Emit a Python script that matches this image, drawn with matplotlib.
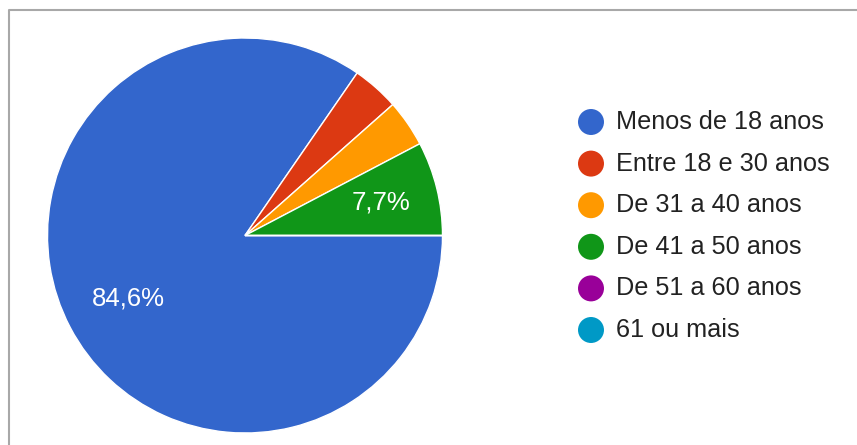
import matplotlib
matplotlib.use('Agg')
import matplotlib.pyplot as plt

# answers to the age question
labels = ['Menos de 18 anos', 'Entre 18 e 30 anos', 'De 31 a 40 anos',
          'De 41 a 50 anos', 'De 51 a 60 anos', '61 ou mais']
counts = [22, 1, 1, 2, 0, 0]
colors = ['#3366cc', '#dc3912', '#ff9900', '#109618', '#990099', '#0099c6']

W, H = 857, 445
plt.rcParams['font.family'] = ['Liberation Sans', 'DejaVu Sans']
fig = plt.figure(figsize=(W / 100, H / 100), dpi=100)

# full-figure axes in pixel units for the frame and the legend
bg = fig.add_axes([0, 0, 1, 1])
bg.set_xlim(0, W)
bg.set_ylim(H, 0)
bg.axis('off')
bg.plot([9, 9, W], [H, 10, 10], color='#a8a8a8', lw=1.5)

# pie
cx, cy, r = 245, 235.5, 197.5
ax = fig.add_axes([(cx - r) / W, (H - cy - r) / H, 2 * r / W, 2 * r / H])


def pct_label(p):
    return f'{p:.1f}%'.replace('.', ',') if p > 5 else ''


wedges, _, pct_texts = ax.pie(
    counts, colors=colors, startangle=0, counterclock=False,
    autopct=pct_label, pctdistance=0.69,
    wedgeprops=dict(edgecolor='white', linewidth=1),
    textprops=dict(color='white', fontsize=18.5))
ax.set_xlim(-1.0, 1.0)
ax.set_ylim(-1.0, 1.0)
# the labels sit a touch right of the slice centre in the original
for t in pct_texts:
    t.set_x(t.get_position()[0] + 0.02)

# legend
for i, (lab, col) in enumerate(zip(labels, colors)):
    y = 122 + i * 41.6
    bg.scatter(591, y, s=350, color=col, edgecolor='none')
    bg.text(616, y, lab, va='center', ha='left', fontsize=18.2, color='#222222')

fig.savefig('out.png', dpi=100)
